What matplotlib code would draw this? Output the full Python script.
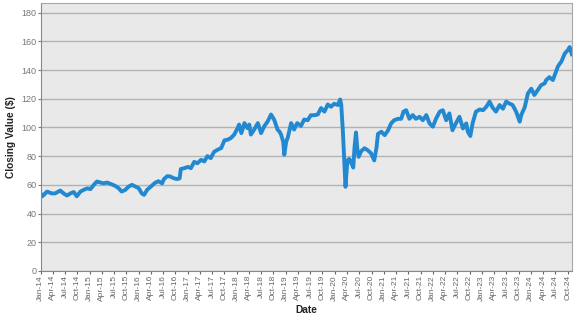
import pandas as pd
import matplotlib
matplotlib.use("Agg")
import matplotlib.pyplot as plt
import matplotlib.dates as mdates

plt.rcParams['font.family'] = ['Liberation Sans', 'DejaVu Sans']

# values
dates = [
    '2014-01-01', '2014-01-13', '2014-02-18', '2014-03-24', '2014-04-18', '2014-05-27',
    '2014-06-21', '2014-07-16', '2014-08-10', '2014-09-04', '2014-09-27', '2014-10-24',
    '2014-11-18', '2014-12-13', '2015-01-07', '2015-02-01', '2015-02-24', '2015-03-21',
    '2015-04-16', '2015-05-10', '2015-06-04', '2015-07-10', '2015-08-04', '2015-08-27',
    '2015-09-24', '2015-10-18', '2015-11-13', '2015-12-07', '2016-01-01', '2016-01-24',
    '2016-02-10', '2016-03-04', '2016-04-10', '2016-05-04', '2016-05-27', '2016-06-24',
    '2016-07-07', '2016-08-01', '2016-08-24', '2016-09-18', '2016-10-13', '2016-11-01',
    '2016-11-10', '2016-12-07', '2017-01-01', '2017-01-24', '2017-02-18', '2017-03-13',
    '2017-04-10', '2017-05-04', '2017-05-27', '2017-06-21', '2017-07-16', '2017-08-10',
    '2017-09-07', '2017-10-01', '2017-10-24', '2017-11-18', '2017-12-13', '2018-01-07',
    '2018-01-18', '2018-02-04', '2018-02-27', '2018-03-21', '2018-04-04', '2018-04-16',
    '2018-05-10', '2018-06-07', '2018-07-01', '2018-07-24', '2018-08-18', '2018-09-13',
    '2018-10-07', '2018-11-01', '2018-11-16', '2018-11-27', '2018-12-13', '2018-12-21',
    '2019-01-04', '2019-01-16', '2019-02-10', '2019-03-04', '2019-03-27', '2019-04-24',
    '2019-05-18', '2019-06-13', '2019-07-07', '2019-08-01', '2019-08-27', '2019-09-21',
    '2019-10-16', '2019-11-10', '2019-12-04', '2019-12-27', '2020-01-24', '2020-02-10',
    '2020-02-18', '2020-03-01', '2020-03-13', '2020-03-21', '2020-04-01', '2020-04-10',
    '2020-04-18', '2020-05-01', '2020-05-18', '2020-05-27', '2020-06-07', '2020-06-18',
    '2020-06-27', '2020-07-16', '2020-08-10', '2020-09-04', '2020-09-27', '2020-10-21',
    '2020-11-07', '2020-11-18', '2020-12-13', '2021-01-07', '2021-02-01', '2021-02-24',
    '2021-03-18', '2021-04-16', '2021-05-10', '2021-05-27', '2021-06-16', '2021-07-10',
    '2021-08-04', '2021-08-27', '2021-09-24', '2021-10-18', '2021-11-13', '2021-12-07',
    '2022-01-01', '2022-01-24', '2022-02-21', '2022-03-16', '2022-04-10', '2022-05-04',
    '2022-05-27', '2022-06-21', '2022-07-18', '2022-08-13', '2022-09-07', '2022-09-18',
    '2022-10-07', '2022-10-24', '2022-11-18', '2022-12-16', '2023-01-10', '2023-02-04',
    '2023-02-27', '2023-03-21', '2023-04-16', '2023-05-13', '2023-06-07', '2023-07-01',
    '2023-07-24', '2023-08-18', '2023-09-13', '2023-10-10', '2023-10-21', '2023-11-16',
    '2023-12-10', '2024-01-04', '2024-01-27', '2024-02-21', '2024-03-18', '2024-04-13',
    '2024-04-24', '2024-05-18', '2024-06-13', '2024-07-07', '2024-07-21', '2024-08-16',
    '2024-09-10', '2024-10-04', '2024-10-16', '2024-11-01',
]
closing = [
    54, 52, 55.3, 54, 54, 56,
    54, 52.5, 54, 55, 52, 55.3,
    56.5, 57.5, 57, 60, 62.3, 61.6,
    61, 61.6, 60.7, 59.3, 57.7, 55.3,
    56.5, 58.8, 60, 58.8, 57.7, 54,
    53, 56.5, 59.5, 61.5, 62.5, 61,
    64, 66, 65.8, 64.6, 64, 64.5,
    71, 71.6, 72.5, 71.6, 76, 75,
    77.4, 76.3, 80, 78.6, 83, 84.4,
    85.6, 91, 91.4, 92.6, 95, 99.5,
    102, 96, 103, 99.5, 102, 95,
    98.4, 103, 96, 100.7, 104, 109,
    105.3, 98.4, 97, 95, 90, 81,
    90, 93, 103, 98.5, 103, 101,
    105.5, 105, 108.5, 108.5, 109, 113.5,
    111, 116, 114.4, 116.5, 115.6, 119.5,
    116, 98, 75, 58.6, 73, 77.6,
    78, 76, 72, 86, 96.5, 84,
    79.5, 83.5, 85.5, 84, 82, 77,
    86, 95.5, 97, 94.6, 98, 102.8,
    105, 106, 106, 111, 112, 106,
    108.6, 106, 107.4, 105, 108.6, 102.8,
    100.5, 106, 111, 112, 105, 109.8,
    98, 102.8, 107.4, 99.3, 102.8, 97,
    94, 103, 111, 112.5, 112, 114.5,
    118, 114, 111, 115.6, 113, 118,
    116.7, 115.6, 111, 104, 108.6, 114,
    123.7, 127, 122.6, 126, 129.5, 130.7,
    133, 135, 133, 139, 142.6, 146,
    151.6, 154, 156, 151,
]
y_ticks = [0, 20, 40, 60, 80, 100, 120, 140, 160, 180]

x = pd.to_datetime(dates)

fig = plt.figure(figsize=(5.77, 3.15), dpi=100)
ax = fig.add_axes([0.0705, 0.14, 0.9205, 0.8495])
ax.set_facecolor('#e9e9e9')

ax.plot(x, closing, color='#2289d1', linewidth=2.8, solid_joinstyle='round')

ax.set_xlim(x[0], x[-1])
ax.set_ylim(0, 186.5)
ax.set_yticks(y_ticks)
ax.yaxis.grid(True, color='#b3b3b3', linewidth=1.0)
ax.set_axisbelow(True)

ax.xaxis.set_major_locator(mdates.MonthLocator(bymonth=[1, 4, 7, 10]))
ax.xaxis.set_major_formatter(mdates.DateFormatter('%b-%y'))
ax.tick_params(axis='x', labelrotation=90, labelsize=6, colors='#666666', length=2, pad=1)
ax.tick_params(axis='y', labelsize=6.5, colors='#777777', length=2, pad=1)

for s in ax.spines.values():
    s.set_color('#a8a8a8')
    s.set_linewidth(0.8)
ax.spines['left'].set_color('#888888')
ax.spines['bottom'].set_color('#888888')

ax.set_ylabel('Closing Value ($)', fontsize=7.3, fontweight='bold', color='#222222', labelpad=4)
ax.set_xlabel('Date', fontsize=7.3, fontweight='bold', color='#222222', labelpad=3)

fig.savefig('out.png', dpi=100)
